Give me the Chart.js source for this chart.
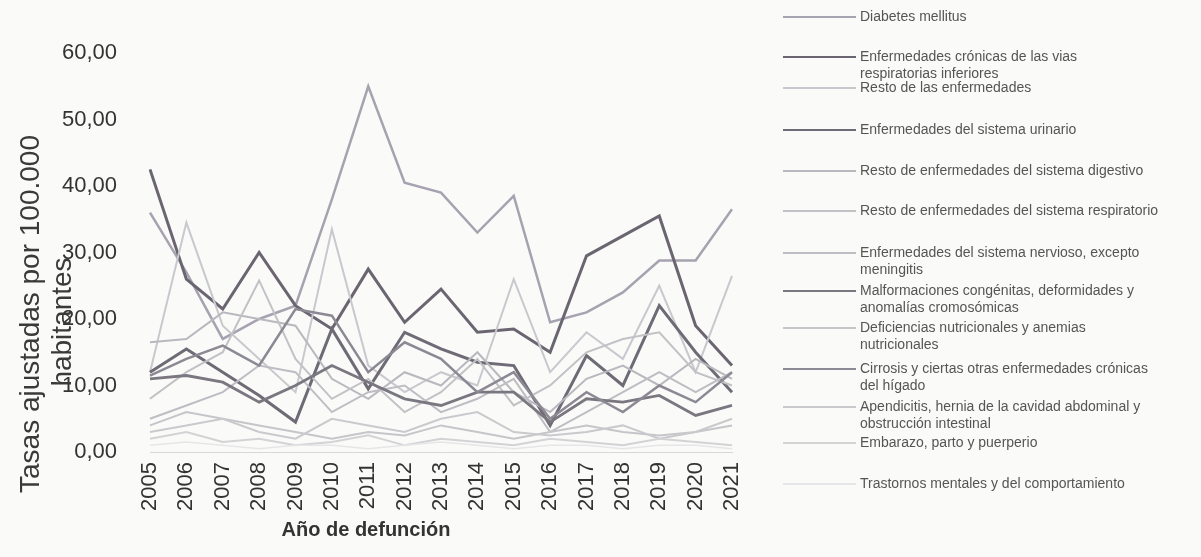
<!DOCTYPE html>
<html><head><meta charset="utf-8">
<script src="https://cdn.jsdelivr.net/npm/chart.js@4.4.1/dist/chart.umd.min.js"></script>
<style>html,body{margin:0;padding:0;background:#fafaf8;}#wrap{position:relative;width:1201px;height:557px;}</style>
</head><body><div id="wrap"><canvas id="c" width="1201" height="557"></canvas></div>
<script>
const years = ['2005','2006','2007','2008','2009','2010','2011','2012','2013','2014','2015','2016','2017','2018','2019','2020','2021'];
const diabetes       = [36, 27, 17, 20, 22, 38, 55, 40.5, 39, 33, 38.5, 19.5, 21, 24, 28.8, 28.8, 36.5];
const cronicasResp   = [42.5, 26, 21.5, 30, 22, 18.5, 27.5, 19.5, 24.5, 18, 18.5, 15, 29.5, 32.5, 35.5, 19, 13];
const restoEnf       = [12, 34.5, 19, 14, 9, 33.5, 13, 9, 12, 10, 26, 12, 18, 14, 25, 12, 26.5];
const urinario       = [12, 15.5, 12, 8.5, 4.5, 18.5, 9.5, 18, 15.5, 13.5, 13, 4, 14.5, 10, 22, 15, 9];
const digestivo      = [16.5, 17, 21, 20, 19, 11, 8, 12, 10, 15, 9, 6, 11, 13, 10, 14, 11];
const respiratorio   = [8, 12, 15, 25.8, 14, 8, 11, 6, 9, 14, 7, 10, 15, 17, 18, 12, 10];
const nervioso       = [5, 7, 9, 13, 12, 6, 9, 10, 6, 8, 11, 3, 6, 9, 12, 9, 12];
const malformaciones = [11, 11.5, 10.5, 7.5, 10, 13, 10.5, 8, 7, 9, 9, 4.5, 8, 7.5, 8.5, 5.5, 7];
const deficiencias   = [4, 6, 5, 4, 3, 2, 3, 2.5, 4, 3, 2, 3, 4, 3, 2.5, 3, 4];
const cirrosis       = [11.5, 14, 16, 13, 21.5, 20.5, 12, 16.5, 14, 9, 12, 5, 9, 6, 10, 7.5, 12];
const apendicitis    = [3, 4, 5, 3, 2, 5, 4, 3, 5, 6, 3, 2.5, 3, 4, 2, 3, 5];
const embarazo       = [2, 3, 1.5, 2, 1, 1.5, 2.5, 1, 2, 1.5, 1, 2, 1.5, 1, 2, 1.5, 1];
const trastornos     = [1, 1.5, 1, 0.5, 1, 1, 0.5, 1, 1.5, 1, 0.5, 1, 1, 0.5, 1, 1, 0.5];

const seriesNames = [
  'Diabetes mellitus',
  'Enfermedades crónicas de las vias\nrespiratorias inferiores',
  'Resto de las enfermedades',
  'Enfermedades del sistema urinario',
  'Resto de enfermedades del sistema digestivo',
  'Resto de enfermedades del sistema respiratorio',
  'Enfermedades del sistema nervioso, excepto\nmeningitis',
  'Malformaciones congénitas, deformidades y\nanomalías cromosómicas',
  'Deficiencias nutricionales y anemias\nnutricionales',
  'Cirrosis y ciertas otras enfermedades crónicas\ndel hígado',
  'Apendicitis, hernia de la cavidad abdominal y\nobstrucción intestinal',
  'Embarazo, parto y puerperio',
  'Trastornos mentales y del comportamiento'
];
const seriesData = [diabetes, cronicasResp, restoEnf, urinario, digestivo, respiratorio, nervioso, malformaciones, deficiencias, cirrosis, apendicitis, embarazo, trastornos];
const yTitleLines = ['Tasas ajustadas por 100.000', 'habitantes'];
const xTitle = 'Año de defunción';

const colors = ['#a7a2b0','#6a6570','#c9c8ce','#6f6b76','#b9b8be','#c2c1c6','#bebdc3','#7b7781','#c6c6ca','#8d8994','#cacace','#d3d3d6','#e6e6e8'];
const widths = [2.5,3,2,3,2,2,2,2.8,2,2.5,2,2,1.5];
const legendY = [17, 57, 88, 130, 171, 211, 253, 291, 328, 369, 407, 443, 484];

const datasets = seriesData.map((d, i) => ({
  label: seriesNames[i].replace('\n', ' '),
  data: d,
  borderColor: colors[i],
  backgroundColor: colors[i],
  borderWidth: widths[i],
  pointRadius: 0,
  tension: 0,
  fill: false,
  order: 13 - i
}));

const FONT = '"Liberation Sans", Arial, sans-serif';

const extras = {
  id: 'extras',
  afterDraw(chart) {
    const ctx = chart.ctx;
    ctx.save();
    ctx.fillStyle = '#3a3a3a';
    ctx.font = '28px ' + FONT;
    ctx.textAlign = 'center';
    ctx.textBaseline = 'middle';
    ctx.save(); ctx.translate(31, 314); ctx.rotate(-Math.PI / 2); ctx.fillText(yTitleLines[0], 0, 0); ctx.restore();
    ctx.save(); ctx.translate(63, 322); ctx.rotate(-Math.PI / 2); ctx.fillText(yTitleLines[1], 0, 0); ctx.restore();
    ctx.font = 'bold 20px ' + FONT;
    ctx.fillStyle = '#333';
    ctx.fillText(xTitle, 366, 530);
    // legend
    ctx.textAlign = 'left';
    ctx.font = '14px ' + FONT;
    seriesNames.forEach((name, i) => {
      const y = legendY[i];
      ctx.strokeStyle = colors[i];
      ctx.lineWidth = 2;
      ctx.beginPath(); ctx.moveTo(783, y); ctx.lineTo(856, y); ctx.stroke();
      ctx.fillStyle = '#555';
      name.split('\n').forEach((ln, k) => ctx.fillText(ln, 860, y + k * 17));
    });
    ctx.restore();
  }
};

new Chart(document.getElementById('c'), {
  type: 'line',
  data: { labels: years, datasets },
  options: {
    responsive: false,
    animation: false,
    devicePixelRatio: 1,
    layout: { padding: { left: 0, right: 469, top: 53, bottom: 0 } },
    plugins: { legend: { display: false }, tooltip: { enabled: false } },
    scales: {
      x: {
        offset: false,
        grid: { display: false, drawTicks: false },
        border: { display: true, color: '#d8d8d8', width: 1 },
        ticks: { minRotation: 90, maxRotation: 90, autoSkip: false, padding: 10, color: '#333', font: { size: 22, family: FONT } },
        afterFit(s) { s.height = 105; }
      },
      y: {
        min: 0, max: 60,
        grid: { display: false, drawTicks: false },
        border: { display: false },
        ticks: { stepSize: 10, padding: 33, color: '#333', font: { size: 22, family: FONT },
          callback: v => v.toFixed(2).replace('.', ',') },
        afterFit(s) { s.width = 150; }
      }
    }
  },
  plugins: [extras]
});
</script></body></html>
